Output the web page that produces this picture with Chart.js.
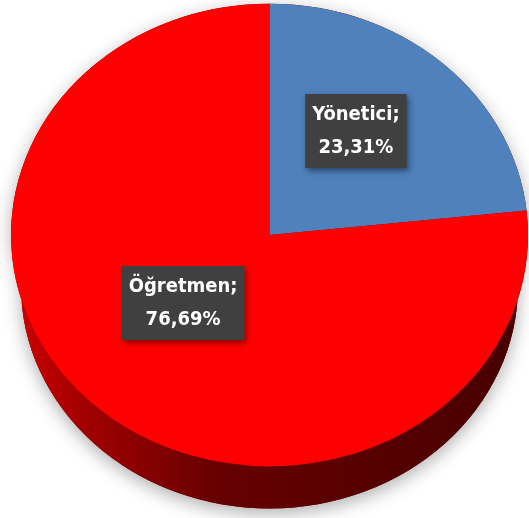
<!DOCTYPE html>
<html>
<head>
<meta charset="utf-8">
<script src="https://cdn.jsdelivr.net/npm/chart.js@4/dist/chart.umd.min.js"></script>
<style>
  html, body { margin: 0; padding: 0; background: #fff; }
  canvas { display: block; }
</style>
</head>
<body>
<canvas id="pie" width="529" height="518"></canvas>
<script>
// veriler
const labels = ["Yönetici", "Öğretmen"];
const values = [23.31, 76.69];
const colors = ["#4F81BD", "#FF0000"];

// 3B görünüm ayarları
const tilt = 0.895;     // dikey basıklık
const topY = 235;       // üst yüzey merkezi
const depth = 51;       // yan duvar kalınlığı
const shrink = 10;      // alt kenarın perspektif daralması
const lift = 18;        // etiketler için perspektif kayması

function geom(chart) {
  const arc = chart.getDatasetMeta(0).data[0];
  return { cx: arc.x, cy: arc.y, R: arc.outerRadius };
}

const pie3d = {
  id: "pie3d",
  beforeDatasetsDraw(chart) {
    const ctx = chart.ctx;
    const { cx, cy, R } = geom(chart);
    const ry = R * tilt;
    const Rb = R - shrink, ryb = Rb * tilt;

    // gölge
    ctx.save();
    ctx.shadowColor = "rgba(0,0,0,0.32)";
    ctx.shadowBlur = 18;
    ctx.shadowOffsetY = 5;
    ctx.fillStyle = "#700000";
    ctx.beginPath();
    ctx.ellipse(cx, topY, R, ry, 0, Math.PI, 2 * Math.PI);
    ctx.ellipse(cx, topY + depth, Rb, ryb, 0, 0, Math.PI);
    ctx.closePath();
    ctx.fill();
    ctx.restore();

    // yan duvar: her dilimin görünen (alt) kısmı
    const grad = ctx.createLinearGradient(cx - R, 0, cx + R, 0);
    grad.addColorStop(0, "#D00000");
    grad.addColorStop(0.15, "#A00000");
    grad.addColorStop(0.4, "#660000");
    grad.addColorStop(1, "#460000");
    chart.getDatasetMeta(0).data.forEach((el, i) => {
      const a0 = el.startAngle, a1 = el.endAngle;
      const segs = [];
      for (let k = -1; k <= 1; k++) {
        const s = Math.max(a0 + k * 2 * Math.PI, 0);
        const e = Math.min(a1 + k * 2 * Math.PI, Math.PI);
        if (e > s) segs.push([s, e]);
      }
      segs.forEach(([s, e]) => {
        ctx.save();
        ctx.beginPath();
        ctx.ellipse(cx, topY, R, ry, 0, s, e);
        ctx.ellipse(cx, topY + depth, Rb, ryb, 0, e, s, true);
        ctx.closePath();
        ctx.fillStyle = i === 1 ? grad : "#2B4A73";
        ctx.fill();
        ctx.restore();
      });
    });

    // üst yüzeyi bas
    ctx.save();
    ctx.translate(cx, topY);
    ctx.scale(1, tilt);
    ctx.translate(-cx, -cy);
  },
  afterDatasetsDraw(chart) {
    const ctx = chart.ctx;
    ctx.restore();
    const { cx, R } = geom(chart);
    const fontName = "bold 20px 'Liberation Sans Narrow', 'DejaVu Sans Condensed', sans-serif";
    chart.getDatasetMeta(0).data.forEach((el, i) => {
      const mid = (el.startAngle + el.endAngle) / 2;
      const r = R * 0.5;
      const x = cx + r * Math.cos(mid);
      const y = topY + r * Math.sin(mid) * tilt - lift;
      const line1 = labels[i] + ";";
      const line2 = values[i].toFixed(2).replace(".", ",") + "%";
      ctx.save();
      ctx.font = fontName;
      const w = Math.max(ctx.measureText(line1).width, ctx.measureText(line2).width) + 14;
      const h = 74;
      ctx.shadowColor = "rgba(0,0,0,0.45)";
      ctx.shadowBlur = 6;
      ctx.shadowOffsetX = 2;
      ctx.shadowOffsetY = 3;
      ctx.fillStyle = "#404040";
      ctx.fillRect(x - w / 2, y - h / 2, w, h);
      ctx.shadowColor = "transparent";
      ctx.fillStyle = "#FFFFFF";
      ctx.textAlign = "center";
      ctx.textBaseline = "middle";
      ctx.fillText(line1, x, y - 16);
      ctx.fillText(line2, x, y + 17);
      ctx.restore();
    });
  }
};

new Chart(document.getElementById("pie"), {
  type: "pie",
  data: {
    labels: labels,
    datasets: [{
      data: values,
      backgroundColor: colors,
      borderWidth: 0,
      clip: false
    }]
  },
  options: {
    responsive: false,
    animation: false,
    layout: { padding: { left: 11, right: 1, top: 0, bottom: 0 } },
    plugins: {
      legend: { display: false },
      tooltip: { enabled: false }
    }
  },
  plugins: [pie3d]
});
</script>
</body>
</html>
